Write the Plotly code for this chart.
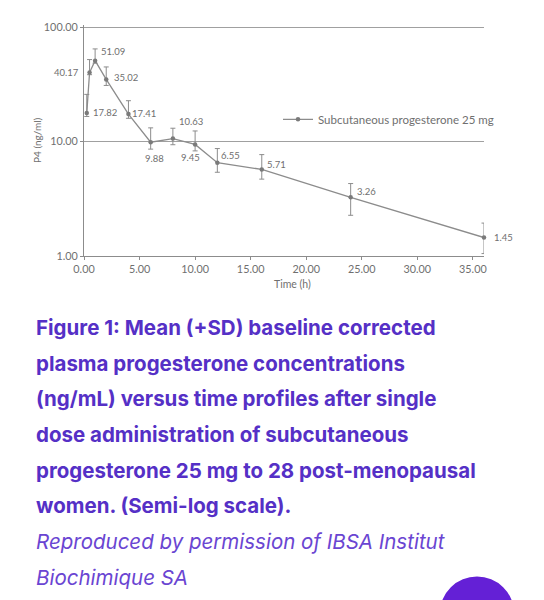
import plotly.graph_objects as go
import math

# ---- data ----
time_h = [0.25, 0.5, 1, 2, 4, 6, 8, 10, 12, 16, 24, 36]
mean_p4 = [17.82, 40.17, 51.09, 35.02, 17.41, 9.88, 10.63, 9.45, 6.55, 5.71, 3.26, 1.45]
sd_upper = [25.9, 52.2, 64.7, 45.0, 22.8, 13.2, 13.1, 12.4, 8.7, 7.7, 4.3, 1.94]
sd_lower = [16.6, 38.5, 48.5, 31.0, 16.0, 8.6, 9.4, 8.3, 5.4, 4.7, 2.27, 1.05]
value_labels = ["17.82", "40.17", "51.09", "35.02", "17.41", "9.88",
                "10.63", "9.45", "6.55", "5.71", "3.26", "1.45"]
x_ticks = [0, 5, 10, 15, 20, 25, 30, 35]
y_ticks = [1, 10, 100]
series_name = "Subcutaneous progesterone 25 mg"

caption_bold = [
    "Figure 1: Mean (+SD) baseline corrected",
    "plasma progesterone concentrations",
    "(ng/mL) versus time profiles after single",
    "dose administration of subcutaneous",
    "progesterone 25 mg to 28 post-menopausal",
    "women. (Semi-log scale).",
]
caption_italic = [
    "Reproduced by permission of IBSA Institut",
    "Biochimique SA",
]

# ---- styles / layout geometry ----
OFF = 8  # page body margin of the html page
W, H = 544 - OFF, 600 - OFF
Y_TOP = 2.02                       # log10 of the y range top
DECADE_PX = 116.3
PLOT_L, PLOT_R, PLOT_B = 84, 484, 256              # in window pixels
PLOT_T = PLOT_B - Y_TOP * DECADE_PX
L, T = PLOT_L - OFF, PLOT_T - OFF
R = W - (PLOT_R - OFF)
B = H - (PLOT_B - OFF)
PW, PH = PLOT_R - PLOT_L, PLOT_B - PLOT_T
GREY = "#8c8c8c"
TXT = "#6f6f6f"
PURPLE = "#5530c6"
PURPLE_IT = "#6a45d2"

# label offsets (pixels) for each value label
label_dx = [18, -23, 18, 20, 16, 4, 18, -5, 13, 15, 16, 19]
label_dy = [0, 0, 9, 2, 1, -16, 17, -13, 7, 5, 6, 0]


def px2paper_x(px):
    return (px - PLOT_L) / PW


def py2paper_y(py):
    return (PLOT_B - py) / PH


fig = go.Figure()
fig.add_trace(go.Scatter(
    x=time_h, y=mean_p4, mode="lines+markers", name=series_name,
    line=dict(color=GREY, width=1.3),
    marker=dict(color="#7a7a7a", size=4.5),
    cliponaxis=False,
    error_y=dict(type="data", symmetric=False,
                 array=[u - m for u, m in zip(sd_upper, mean_p4)],
                 arrayminus=[m - lo for m, lo in zip(mean_p4, sd_lower)],
                 color=GREY, thickness=1, width=2.5),
))

annotations = []
for t, v, lab, dx, dy in zip(time_h, mean_p4, value_labels, label_dx, label_dy):
    annotations.append(dict(
        x=t, y=math.log10(v), xref="x", yref="y", text=lab, showarrow=False,
        xshift=dx, yshift=dy, font=dict(family="Lato", size=9.5, color=TXT),
    ))

# axis titles
annotations.append(dict(x=px2paper_x(37), y=py2paper_y(138), xref="paper", yref="paper",
                        xanchor="center", yanchor="middle",
                        text="P4 (ng/ml)", showarrow=False, textangle=-90,
                        font=dict(family="Lato", size=10, color=TXT)))
annotations.append(dict(x=px2paper_x(292), y=py2paper_y(284), xref="paper", yref="paper",
                        xanchor="center", yanchor="middle",
                        text="Time (h)", showarrow=False,
                        font=dict(family="Lato", size=10.5, color=TXT)))

# caption
for i, line in enumerate(caption_bold):
    annotations.append(dict(x=px2paper_x(34), y=py2paper_y(328.7 + i * 36.3),
                            xref="paper", yref="paper", xanchor="left", yanchor="middle",
                            text="<b>" + line + "</b>", showarrow=False,
                            font=dict(family="Inter", size=20.5, color=PURPLE)))
for i, line in enumerate(caption_italic):
    annotations.append(dict(x=px2paper_x(34), y=py2paper_y(546.8 + i * 36.3),
                            xref="paper", yref="paper", xanchor="left", yanchor="middle",
                            text="<i>" + line + "</i>", showarrow=False,
                            font=dict(family="Inter", size=20.5, color=PURPLE_IT)))

fig.update_layout(
    width=W, height=H,
    margin=dict(l=L, r=R, t=T, b=B),
    paper_bgcolor="white", plot_bgcolor="white",
    showlegend=True,
    legend=dict(x=px2paper_x(278), y=py2paper_y(117), xanchor="left", yanchor="middle",
                bgcolor="rgba(0,0,0,0)", font=dict(family="Lato", size=11.5, color=TXT)),
    annotations=annotations,
    shapes=[dict(type="circle", xref="paper", yref="paper",
                 x0=px2paper_x(440), x1=px2paper_x(514),
                 y0=py2paper_y(582), y1=py2paper_y(656),
                 fillcolor="#6420d6", line=dict(width=0), layer="above")],
)
fig.update_xaxes(
    range=[0, 36], tickvals=x_ticks, tickformat=".2f",
    showline=True, linecolor=GREY, linewidth=1.2, showgrid=False, zeroline=False,
    ticks="outside", ticklen=3, tickcolor=GREY,
    tickfont=dict(family="Lato", size=10.8, color=TXT),
)
fig.update_yaxes(
    type="log", range=[0, Y_TOP], tickvals=y_ticks, tickformat=".2f",
    showline=True, linecolor=GREY, linewidth=1.2, showgrid=True, gridcolor="#a0a0a0",
    gridwidth=1, zeroline=False, ticks="outside", ticklen=3, tickcolor=GREY,
    tickfont=dict(family="Lato", size=10.8, color=TXT),
)

fig.write_html("out.html")
